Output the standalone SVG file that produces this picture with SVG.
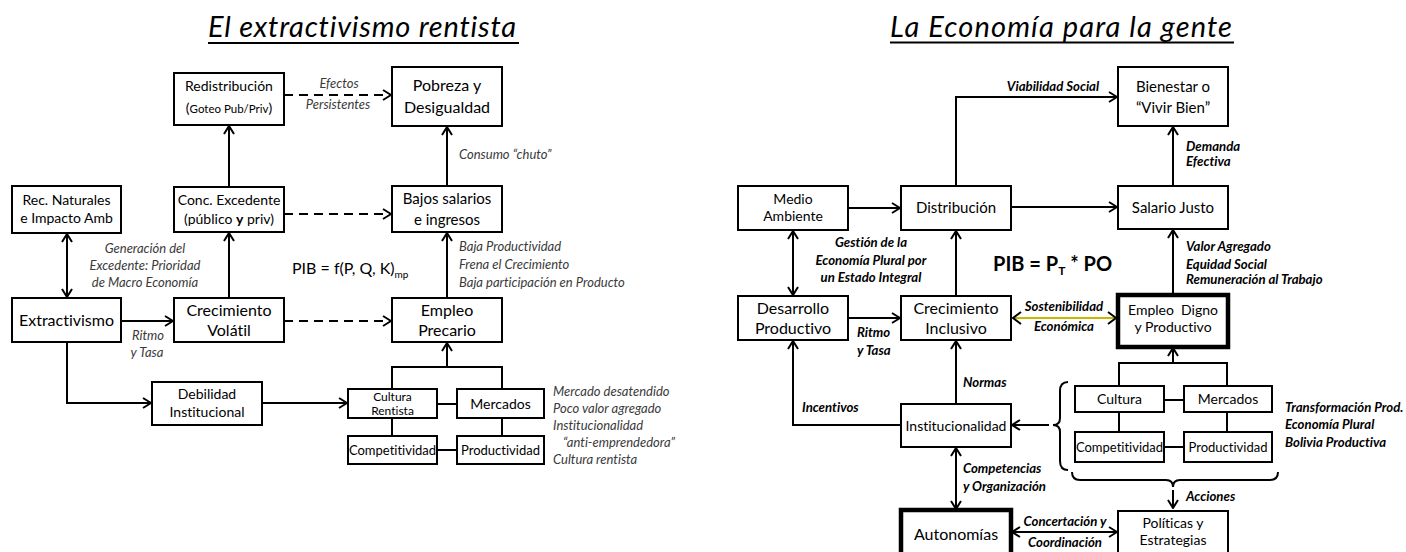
<svg xmlns="http://www.w3.org/2000/svg" width="1406" height="552" viewBox="0 0 1406 552">
<style>
text{font-family:Lato,"Liberation Sans",sans-serif;fill:#000;font-variant-ligatures:none;font-feature-settings:"liga" 0,"clig" 0}
.box{fill:#fff;stroke:#000;stroke-width:2}
.thick{fill:#fff;stroke:#000;stroke-width:4.5}
.c{text-anchor:middle}
.t16{font-size:16px}.t15{font-size:15px}.t14{font-size:14px}.t13{font-size:13px}.t12{font-size:12px}
.ann{font-size:13px;font-style:italic;fill:#3a3a3a}
.annb{font-size:13.2px;font-style:italic;font-weight:bold}
.ttl{font-size:29px;font-style:italic}
.ln{fill:none;stroke:#000;stroke-width:2}
.arr{fill:none;stroke:#000;stroke-width:2;marker-end:url(#ah)}
.darr{fill:none;stroke:#000;stroke-width:2;marker-end:url(#ah);marker-start:url(#ah)}
.dash{fill:none;stroke:#000;stroke-width:2.2;stroke-dasharray:9 6;marker-end:url(#ah)}
</style>
<defs>
<marker id="ah" viewBox="0 0 10 12" refX="9" refY="6" markerWidth="10" markerHeight="12" markerUnits="userSpaceOnUse" orient="auto-start-reverse">
<path d="M1,1 L9,6 L1,11" fill="none" stroke="#000" stroke-width="2"/>
</marker>
</defs>
<rect width="1406" height="552" fill="#fff"/>

<g id="titles">
<text x="208" y="37" class="ttl" textLength="308">El extractivismo rentista</text>
<line x1="208" y1="43" x2="519" y2="43" stroke="#000" stroke-width="2"/>
<text x="890" y="37" class="ttl" textLength="342">La Economía para la gente</text>
<line x1="890" y1="42.5" x2="1234" y2="42.5" stroke="#000" stroke-width="2"/>
</g>

<g id="left-connectors">
<path class="arr" d="M229 187 V126"/>
<path class="dash" d="M284 95 H391"/>
<path class="dash" d="M284 214 H391"/>
<path class="arr" d="M447 186 V127"/>
<path class="darr" d="M67 234 V297"/>
<path class="arr" d="M121 321 H173"/>
<path class="arr" d="M229 298 V233"/>
<path class="dash" d="M284 321 H391"/>
<path class="arr" d="M447 298 V233"/>
<path class="arr" d="M67 342 V403 H151"/>
<path class="arr" d="M262 403 H347"/>
<path class="ln" d="M392 389 V367 H502 V389"/>
<path class="arr" d="M447 367 V343"/>
<path class="ln" d="M437 404 H457 M392 418 V436 M502 418 V436 M437 450 H457"/>
</g>

<g id="left-labels">
<text x="339" y="88" class="ann c">Efectos</text>
<text x="338" y="109" class="ann c">Persistentes</text>
<text x="459" y="159" class="ann">Consumo “chuto”</text>
<text x="145" y="253" class="ann c">Generación del</text>
<text x="145" y="270" class="ann c">Excedente: Prioridad</text>
<text x="145" y="287" class="ann c">de Macro Economía</text>
<text x="148" y="340" class="ann c">Ritmo</text>
<text x="147" y="357" class="ann c">y Tasa</text>
<text x="459" y="251" class="ann">Baja Productividad</text>
<text x="459" y="269" class="ann">Frena el Crecimiento</text>
<text x="459" y="287" class="ann">Baja participación en Producto</text>
<text x="553" y="396" class="ann">Mercado desatendido</text>
<text x="553" y="413" class="ann">Poco valor agregado</text>
<text x="553" y="430" class="ann">Institucionalidad</text>
<text x="563" y="447" class="ann">“anti-emprendedora”</text>
<text x="553" y="464" class="ann">Cultura rentista</text>
<text x="292" y="274" class="t16">PIB = f(P, Q, K)<tspan font-size="10" dy="4">mp</tspan></text>
</g>

<g id="redistribucion"><rect class="box" x="174" y="73" width="110" height="52"/>
<text x="229" y="91" class="t14 c">Redistribución</text>
<text x="229" y="113" class="t14 c">(<tspan font-size="11.5">Goteo Pub/Priv</tspan>)</text></g>
<g id="pobreza"><rect class="box" x="392" y="67" width="110" height="59"/>
<text x="447" y="91" class="t16 c">Pobreza y</text>
<text x="447" y="113" class="t16 c">Desigualdad</text></g>
<g id="rec-naturales"><rect class="box" x="12" y="186" width="109" height="47"/>
<text x="66.5" y="205" class="t14 c">Rec. Naturales</text>
<text x="66.5" y="223" class="t14 c">e Impacto Amb</text></g>
<g id="conc-excedente"><rect class="box" x="174" y="187" width="110" height="45"/>
<text x="229" y="205" class="t14 c">Conc. Excedente</text>
<text x="229" y="224" class="t14 c">(público <tspan font-weight="bold">y</tspan> priv)</text></g>
<g id="bajos-salarios"><rect class="box" x="392" y="186" width="110" height="46"/>
<text x="447" y="204" class="t15 c">Bajos salarios</text>
<text x="447" y="225" class="t15 c">e ingresos</text></g>
<g id="extractivismo"><rect class="box" x="12" y="298" width="109" height="44"/>
<text x="66.5" y="326" class="t16 c">Extractivismo</text></g>
<g id="crecimiento-volatil"><rect class="box" x="174" y="298" width="110" height="44"/>
<text x="229" y="316" class="t16 c">Crecimiento</text>
<text x="229" y="336" class="t16 c">Volátil</text></g>
<g id="empleo-precario"><rect class="box" x="392" y="298" width="110" height="44"/>
<text x="447" y="316" class="t16 c">Empleo</text>
<text x="447" y="336" class="t16 c">Precario</text></g>
<g id="debilidad"><rect class="box" x="152" y="382" width="110" height="43"/>
<text x="207" y="399" class="t14 c">Debilidad</text>
<text x="207" y="417" class="t14 c">Institucional</text></g>
<g id="cultura-rentista"><rect class="box" x="348" y="389" width="89" height="29"/>
<text x="392.5" y="401" class="t12 c">Cultura</text>
<text x="392.5" y="415" class="t12 c">Rentista</text></g>
<g id="mercados-l"><rect class="box" x="457" y="389" width="87" height="29"/>
<text x="500.5" y="409" class="t14 c">Mercados</text></g>
<g id="competitividad-l"><rect class="box" x="348" y="436" width="89" height="28"/>
<text x="392.5" y="455" class="t13 c">Competitividad</text></g>
<g id="productividad-l"><rect class="box" x="457" y="436" width="87" height="28"/>
<text x="500.5" y="455" class="t13 c">Productividad</text></g>

<g id="right-connectors">
<path class="arr" d="M848 208 H900"/>
<path class="arr" d="M956 186 V97 H1117"/>
<path class="arr" d="M1011 207 H1117"/>
<path class="arr" d="M1173 186 V127"/>
<path class="darr" d="M793 231 V295"/>
<path class="arr" d="M956 296 V231"/>
<path class="arr" d="M848 318 H900"/>
<path d="M1013 318 H1116" fill="none" stroke="#c9b800" stroke-width="2"/>
<path d="M1021 312 L1013 318 L1021 324 M1108 312 L1116 318 L1108 324" fill="none" stroke="#000" stroke-width="2"/>
<path class="arr" d="M1173 295 V230"/>
<path class="ln" d="M1119 386 V363 H1227 V386"/>
<path class="arr" d="M1173 363 V348"/>
<path class="ln" d="M1164 400 H1184 M1119 412 V432 M1227 412 V432 M1164 447 H1184"/>
<path class="arr" d="M956 404 V341"/>
<path class="arr" d="M901 425 H793 V341"/>
<path class="arr" d="M1049 425 H1012"/>
<path class="darr" d="M956 448 V509"/>
<path class="darr" d="M1012 532 H1117"/>
<path class="arr" d="M1173 490 V508"/>
<path class="ln" d="M1068 382 Q1060 382 1060 391 L1060 418 Q1060 425 1053 425 Q1060 425 1060 432 L1060 461 Q1060 470 1068 470"/>
<path class="ln" d="M1072 472 Q1072 480 1080 480 L1166 480 Q1173 480 1173 487 Q1173 480 1180 480 L1270 480 Q1278 480 1278 472"/>
</g>

<g id="right-labels">
<text x="1053" y="91" class="annb c">Viabilidad Social</text>
<text x="1186" y="151" class="annb">Demanda</text>
<text x="1186" y="166" class="annb">Efectiva</text>
<text x="871" y="247" class="annb c">Gestión de la</text>
<text x="871" y="265" class="annb c">Economía Plural por</text>
<text x="871" y="282" class="annb c">un Estado Integral</text>
<text x="1186" y="251" class="annb">Valor Agregado</text>
<text x="1186" y="269" class="annb">Equidad Social</text>
<text x="1186" y="284" class="annb">Remuneración al Trabajo</text>
<text x="993" y="271" font-size="20" font-weight="bold">PIB = P<tspan font-size="12" dy="4">T</tspan><tspan dy="-4"> * PO</tspan></text>
<text x="1064" y="311" class="annb c">Sostenibilidad</text>
<text x="1064" y="331" class="annb c">Económica</text>
<text x="857" y="337" class="annb">Ritmo</text>
<text x="857" y="355" class="annb">y Tasa</text>
<text x="963" y="387" class="annb">Normas</text>
<text x="802" y="412" class="annb">Incentivos</text>
<text x="1285" y="412" class="annb">Transformación Prod.</text>
<text x="1285" y="429" class="annb">Economía Plural</text>
<text x="1285" y="447" class="annb">Bolivia Productiva</text>
<text x="963" y="473" class="annb">Competencias</text>
<text x="963" y="491" class="annb">y Organización</text>
<text x="1186" y="501" class="annb">Acciones</text>
<text x="1065" y="526" class="annb c">Concertación y</text>
<text x="1065" y="547" class="annb c">Coordinación</text>
</g>

<g id="bienestar"><rect class="box" x="1118" y="67" width="110" height="59"/>
<text x="1173" y="92" class="t15 c">Bienestar o</text>
<text x="1173" y="113" class="t15 c">“Vivir Bien”</text></g>
<g id="medio-ambiente"><rect class="box" x="738" y="186" width="110" height="44"/>
<text x="793" y="204" class="t14 c">Medio</text>
<text x="793" y="221" class="t14 c">Ambiente</text></g>
<g id="distribucion"><rect class="box" x="901" y="186" width="110" height="44"/>
<text x="956" y="213" class="t15 c">Distribución</text></g>
<g id="salario-justo"><rect class="box" x="1118" y="186" width="110" height="43"/>
<text x="1173" y="213" class="t15 c">Salario Justo</text></g>
<g id="desarrollo"><rect class="box" x="738" y="296" width="110" height="44"/>
<text x="793" y="314" class="t16 c">Desarrollo</text>
<text x="793" y="334" class="t16 c">Productivo</text></g>
<g id="crecimiento-inclusivo"><rect class="box" x="901" y="296" width="110" height="44"/>
<text x="956" y="314" class="t16 c">Crecimiento</text>
<text x="956" y="334" class="t16 c">Inclusivo</text></g>
<g id="empleo-digno"><rect class="thick" x="1118" y="295" width="110" height="52"/>
<text x="1173" y="315" class="t14 c" style="white-space:pre">Empleo  Digno</text>
<text x="1173" y="332" class="t14 c">y Productivo</text></g>
<g id="institucionalidad"><rect class="box" x="901" y="404" width="110" height="43"/>
<text x="956" y="431" class="t14 c">Institucionalidad</text></g>
<g id="cultura-r"><rect class="box" x="1075" y="386" width="89" height="26"/>
<text x="1119.5" y="404" class="t14 c">Cultura</text></g>
<g id="mercados-r"><rect class="box" x="1184" y="386" width="88" height="26"/>
<text x="1228" y="404" class="t14 c">Mercados</text></g>
<g id="competitividad-r"><rect class="box" x="1075" y="432" width="89" height="30"/>
<text x="1119.5" y="452" class="t13 c">Competitividad</text></g>
<g id="productividad-r"><rect class="box" x="1184" y="432" width="88" height="30"/>
<text x="1228" y="452" class="t13 c">Productividad</text></g>
<g id="autonomias"><rect class="thick" x="901" y="510" width="110" height="46"/>
<text x="956" y="540" class="t16 c">Autonomías</text></g>
<g id="politicas"><rect class="box" x="1118" y="511" width="110" height="44"/>
<text x="1173" y="528" class="t14 c">Políticas y</text>
<text x="1173" y="545" class="t14 c">Estrategias</text></g>
</svg>
